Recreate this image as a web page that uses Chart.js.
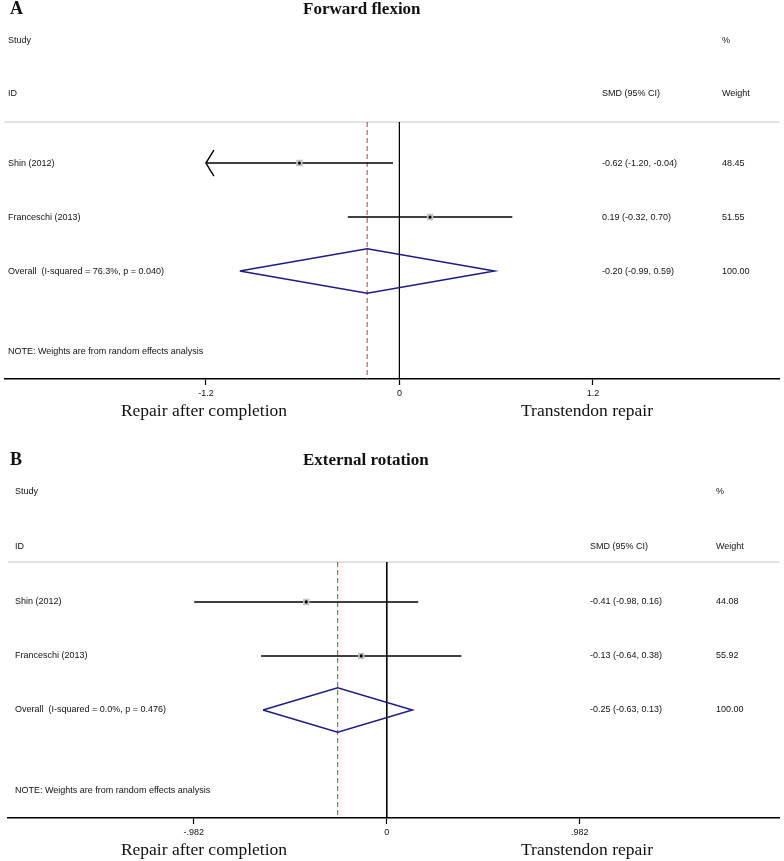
<!DOCTYPE html>
<html lang="en">
<head>
<meta charset="UTF-8">
<title>Forest plots: forward flexion and external rotation</title>
<script src="https://cdn.jsdelivr.net/npm/chart.js"></script>
<style>
    body { margin: 0; background: #fff; width: 784px; height: 861px; position: relative; overflow: hidden; }
    .panel { position: absolute; left: 0; width: 784px; }
    .panel canvas { position: absolute; left: 0; top: 0; }
    .letter, .title {
        position: absolute;
        font-family: 'Liberation Serif', 'Times New Roman', serif;
        font-weight: bold;
        color: #111;
        line-height: 1;
    }
    .letter { font-size: 18px; left: 10px; }
    .title { font-size: 17px; left: 303px; }
</style>
</head>
<body>

<!-- Panel A -->
<div class="panel" style="top:0;height:440px">
    <canvas id="chartA" width="784" height="440"></canvas>
    <div class="letter" style="top:-1px">A</div>
    <div class="title" style="top:0px">Forward flexion</div>
</div>

<!-- Panel B -->
<div class="panel" style="top:440px;height:421px">
    <canvas id="chartB" width="784" height="421"></canvas>
    <div class="letter" style="top:10px">B</div>
    <div class="title" style="top:11px">External rotation</div>
</div>

<script>
// --- data: forward flexion ---
const studiesA = ['Shin (2012)', 'Franceschi (2013)'];
const smdA = [-0.62, 0.19];
const lowA = [-1.20, -0.32];
const highA = [-0.04, 0.70];
const weightA = [48.45, 51.55];
const overallA = [-0.20, -0.99, 0.59];   // estimate, lower, upper
const hetA = 'I-squared = 76.3%, p = 0.040';
const ticksA = [-1.2, 0, 1.2];
const tickLabelsA = ['-1.2', '0', '1.2'];

// --- data: external rotation ---
const studiesB = ['Shin (2012)', 'Franceschi (2013)'];
const smdB = [-0.41, -0.13];
const lowB = [-0.98, -0.64];
const highB = [0.16, 0.38];
const weightB = [44.08, 55.92];
const overallB = [-0.25, -0.63, 0.13];
const hetB = 'I-squared = 0.0%, p = 0.476';
const ticksB = [-0.982, 0, 0.982];
const tickLabelsB = ['-.982', '0', '.982'];

const SANS = '9px "Liberation Sans", Arial, sans-serif';
const SERIF = '17.5px "Liberation Serif", "Times New Roman", serif';
const fmt = v => v.toFixed(2);

function makeForest(id, d) {
    const n = d.studies.length;
    const overallRow = n + 1;
    const noteRow = n + 2.5;
    const bottomRow = n + 3;
    const clipLo = d.ticks[0], clipHi = d.ticks[d.ticks.length - 1];
    const line = (data, color, width, extra) => Object.assign({
        data: data, showLine: true, borderColor: color, borderWidth: width,
        pointRadius: 0, fill: false, tension: 0
    }, extra || {});

    const datasets = [];
    // centre dot + grey box for each study
    datasets.push({
        data: d.smd.map((v, i) => ({ x: v, y: i + 1 })),
        pointStyle: 'circle', pointRadius: 1.6, backgroundColor: '#000', borderWidth: 0
    });
    datasets.push({
        data: d.smd.map((v, i) => ({ x: v, y: i + 1 })),
        pointStyle: 'rect', pointRadius: 4.5, backgroundColor: '#c4c4c4', borderWidth: 0
    });
    // overall diamond
    const [est, olo, ohi] = d.overall;
    datasets.push(line([
        { x: olo, y: overallRow }, { x: est, y: overallRow - 0.41 },
        { x: ohi, y: overallRow }, { x: est, y: overallRow + 0.41 },
        { x: olo, y: overallRow }
    ], '#1c1c80', 1.5));
    // confidence intervals
    d.low.forEach((lo, i) => {
        datasets.push(line([
            { x: Math.max(lo, clipLo), y: i + 1 },
            { x: Math.min(d.high[i], clipHi), y: i + 1 }
        ], '#000', 1.4));
    });
    // overall effect line, no-effect line, header separator
    datasets.push(line([{ x: est, y: d.sepRow }, { x: est, y: bottomRow }], '#b83a3a', 1, { borderDash: [5, 3] }));
    datasets.push(line([{ x: 0, y: d.sepRow }, { x: 0, y: bottomRow }], '#000', 1));
    datasets.push(line([{ x: d.xMin, y: d.sepRow }, { x: d.xMax, y: d.sepRow }], '#c8c8c8', 1.2, { clip: false }));

    const textPlugin = {
        id: 'forestText',
        afterDraw(chart) {
            const ctx = chart.ctx, x = chart.scales.x, y = chart.scales.y;
            ctx.save();
            ctx.fillStyle = '#111';
            ctx.font = SANS;
            ctx.textBaseline = 'middle';
            ctx.textAlign = 'left';
            const put = (t, px, row) => ctx.fillText(t, px, y.getPixelForValue(row));
            put('Study', d.colLeft, d.studyRow);
            put('%', d.colWeight, d.studyRow);
            put('ID', d.colLeft, d.idRow);
            put('SMD (95% CI)', d.colSmd, d.idRow);
            put('Weight', d.colWeight, d.idRow);
            d.studies.forEach((s, i) => {
                put(s, d.colLeft, i + 1);
                put(fmt(d.smd[i]) + ' (' + fmt(d.low[i]) + ', ' + fmt(d.high[i]) + ')', d.colSmd, i + 1);
                put(fmt(d.weight[i]), d.colWeight, i + 1);
            });
            put('Overall  (' + d.het + ')', d.colLeft, overallRow);
            put(fmt(est) + ' (' + fmt(olo) + ', ' + fmt(ohi) + ')', d.colSmd, overallRow);
            put(fmt(d.weight.reduce((a, b) => a + b, 0)), d.colWeight, overallRow);
            put('NOTE: Weights are from random effects analysis', d.colLeft, noteRow);

            // arrow heads where an interval runs past the axis labels
            ctx.strokeStyle = '#000';
            ctx.lineWidth = 1.4;
            d.low.forEach((lo, i) => {
                if (lo > clipLo) return;
                const tx = x.getPixelForValue(clipLo), ty = y.getPixelForValue(i + 1);
                ctx.beginPath();
                ctx.moveTo(tx + 8, ty - 13);
                ctx.lineTo(tx, ty);
                ctx.lineTo(tx + 8, ty + 13);
                ctx.stroke();
            });

            // favours labels
            ctx.font = SERIF;
            ctx.textAlign = 'center';
            ctx.textBaseline = 'alphabetic';
            const base = chart.chartArea.bottom + 37;
            ctx.fillText('Repair after completion', 204, base);
            ctx.fillText('Transtendon repair', 587, base);
            ctx.restore();
        }
    };

    return new Chart(document.getElementById(id), {
        type: 'scatter',
        data: { datasets: datasets },
        options: {
            responsive: false,
            animation: false,
            devicePixelRatio: 1,
            events: [],
            layout: { padding: { top: d.padTop, left: d.padLeft, right: d.padRight, bottom: 0 } },
            plugins: { legend: { display: false }, tooltip: { enabled: false } },
            scales: {
                x: {
                    type: 'linear',
                    min: d.xMin,
                    max: d.xMax,
                    afterBuildTicks: s => { s.ticks = d.ticks.map(v => ({ value: v })); },
                    afterFit: s => { s.height = d.axisHeight; },
                    ticks: {
                        autoSkip: false,
                        maxRotation: 0,
                        padding: 3,
                        color: '#111',
                        font: { family: '"Liberation Sans", Arial, sans-serif', size: 9 },
                        callback: (v, i) => d.tickLabels[i]
                    },
                    grid: { drawOnChartArea: false, drawTicks: true, tickLength: 6, tickColor: '#000', tickWidth: 1.2 },
                    border: { display: true, color: '#000', width: 1.5 }
                },
                y: { type: 'linear', reverse: true, min: d.sepRow, max: bottomRow, display: false }
            }
        },
        plugins: [textPlugin]
    });
}

makeForest('chartA', {
    studies: studiesA, smd: smdA, low: lowA, high: highA, weight: weightA,
    overall: overallA, het: hetA, ticks: ticksA, tickLabels: tickLabelsA,
    xMin: -2.449, xMax: 2.357, sepRow: 0.24, studyRow: -1.26, idRow: -0.28,
    padTop: 122, padLeft: 1, padRight: 2, axisHeight: 61,
    colLeft: 8, colSmd: 602, colWeight: 722
});

makeForest('chartB', {
    studies: studiesB, smd: smdB, low: lowB, high: highB, weight: weightB,
    overall: overallB, het: hetB, ticks: ticksB, tickLabels: tickLabelsB,
    xMin: -1.928, xMax: 1.999, sepRow: 0.26, studyRow: -1.04, idRow: -0.02,
    padTop: 122, padLeft: 8, padRight: 0, axisHeight: 43,
    colLeft: 15, colSmd: 590, colWeight: 716
});
</script>
</body>
</html>
